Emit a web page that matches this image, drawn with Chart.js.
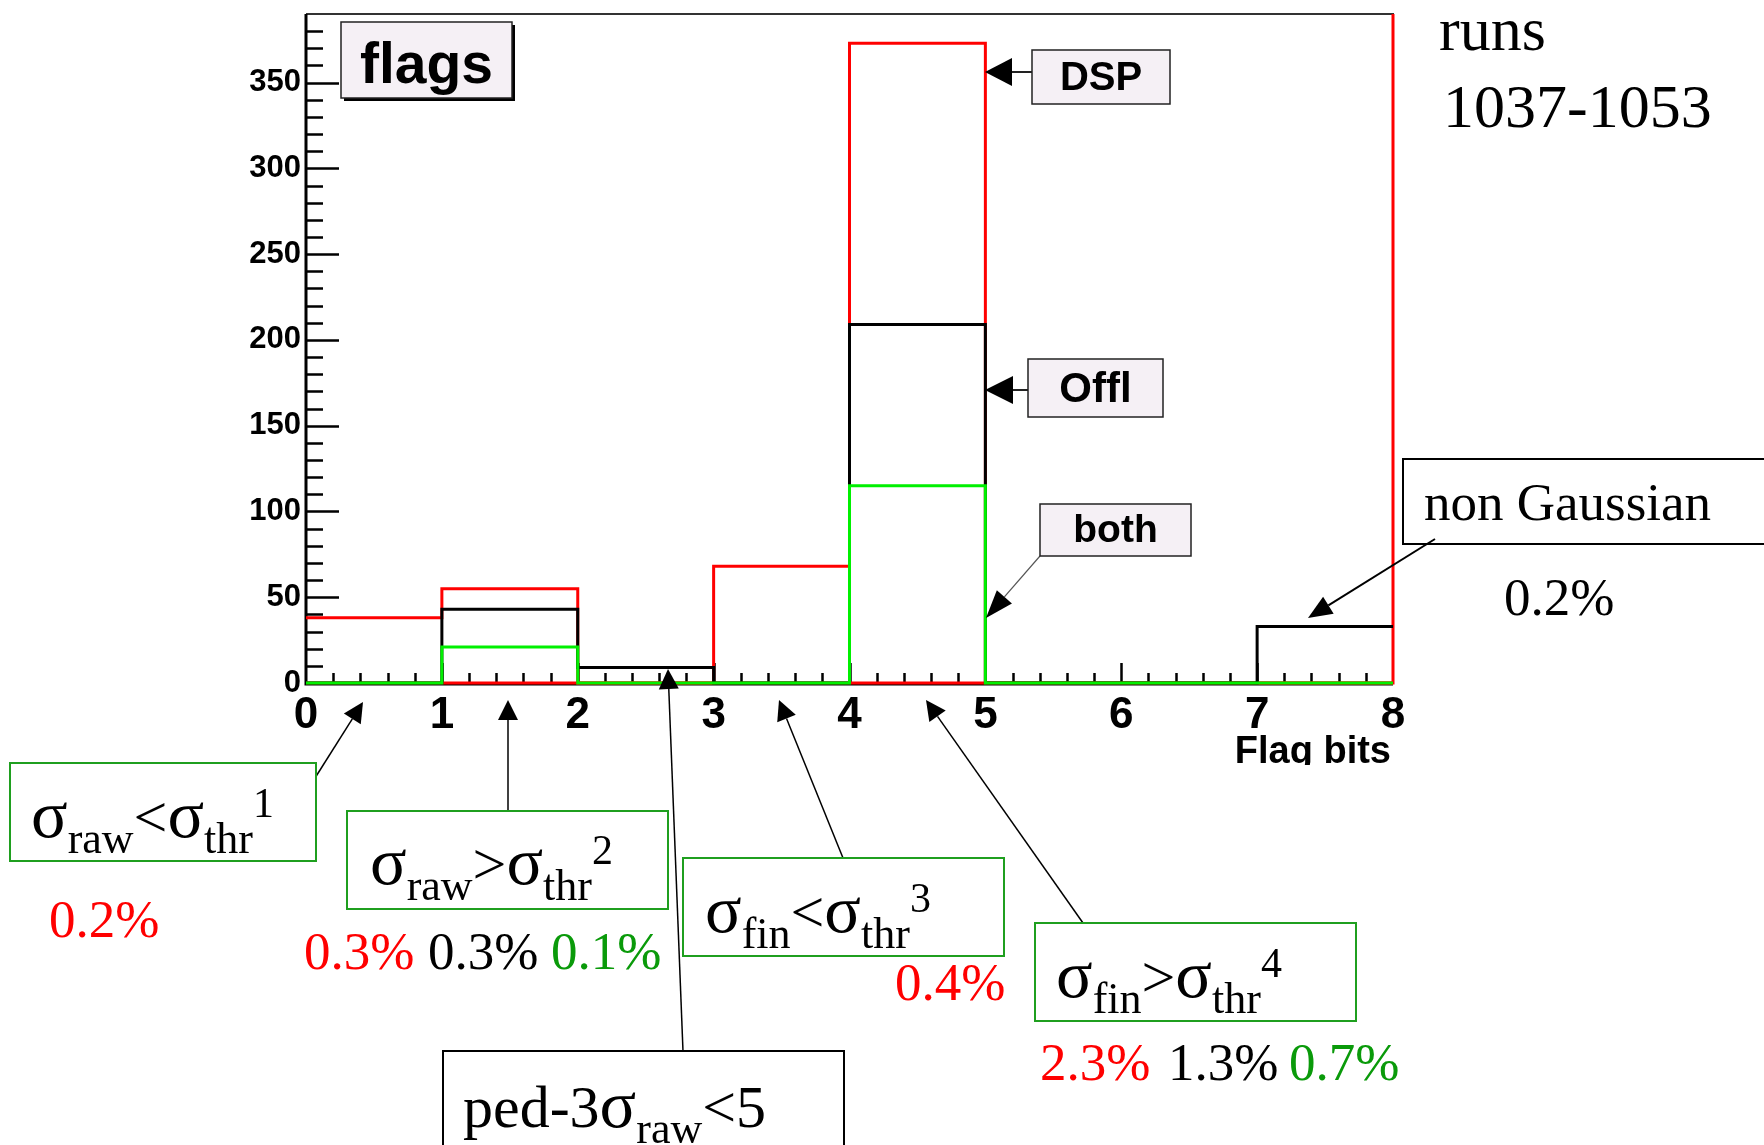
<!DOCTYPE html>
<html>
<head>
<meta charset="utf-8">
<script src="https://cdn.jsdelivr.net/npm/chart.js@4.4.1/dist/chart.umd.min.js"></script>
<style>
  html, body { margin: 0; padding: 0; background: #fff; }
  #wrap { width: 1764px; height: 1145px; position: relative; }
</style>
</head>
<body>
<div id="wrap"><canvas id="c" width="1764" height="1145"></canvas></div>
<script>
// Flag-bit histogram: entries per bin for the three pedestal analyses
const binEdges     = [0, 1, 2, 3, 4, 5, 6, 7, 8];
const dspCounts    = [38, 55, 0, 68, 373, 0, 0, 0];
const dspOverflow  = 400;                 // DSP overflow bin, above the axis range
const offlCounts   = [0, 43, 9, 0, 209, 0, 0, 33];
const bothCounts   = [0, 21, 0, 0, 115, 0, 0, 0];
const xTickLabels  = ['0', '1', '2', '3', '4', '5', '6', '7', '8'];
const yTickLabels  = ['0', '50', '100', '150', '200', '250', '300', '350'];
const yAxisMax     = 390;

const RED = '#ff0000', BLACK = '#000000', GREEN = '#00f000';
const TXT_GREEN = '#0a9a0a', BOX_GREEN = '#1f9f1f';

// histogram outline points: left edge of every bin, closed at the last edge
function stepPoints(edges, counts, closeValue) {
  const pts = counts.map((v, i) => ({ x: edges[i], y: v }));
  const n = counts.length;
  pts.push({ x: edges[n], y: closeValue !== undefined ? closeValue : counts[n - 1] });
  return pts;
}

const histStyle = {
  borderWidth: 3, pointRadius: 0, stepped: true, fill: false, tension: 0,
  clip: { left: 4, right: 4, top: 0, bottom: 4 }
};

// ROOT-style frame, axis lines and inward tick marks
const rootAxes = {
  id: 'rootAxes',
  beforeDatasetsDraw(chart) {
    const { ctx, chartArea: a, scales: { x, y } } = chart;
    ctx.save();
    ctx.strokeStyle = '#333';
    ctx.lineWidth = 2;
    ctx.beginPath();
    ctx.moveTo(a.left, a.top); ctx.lineTo(a.right, a.top); ctx.lineTo(a.right, a.bottom);
    ctx.stroke();

    ctx.strokeStyle = '#000';
    ctx.lineWidth = 3;
    ctx.beginPath();
    ctx.moveTo(a.left, a.top); ctx.lineTo(a.left, a.bottom + 1.5);
    ctx.moveTo(a.left - 1.5, a.bottom + 1); ctx.lineTo(a.right, a.bottom + 1);
    ctx.stroke();

    ctx.lineWidth = 2.5;
    ctx.beginPath();
    for (let v = 10; v < y.max; v += 10) {
      const py = Math.round(y.getPixelForValue(v)) + 0.5;
      const len = v % 50 === 0 ? 33 : 17;
      ctx.moveTo(a.left, py); ctx.lineTo(a.left + len, py);
    }
    for (let k = 1; k < 40; k++) {
      const px = Math.round(x.getPixelForValue(k / 5)) + 0.5;
      const len = k % 5 === 0 ? 20 : 10;
      ctx.moveTo(px, a.bottom); ctx.lineTo(px, a.bottom - len);
    }
    ctx.stroke();
    ctx.restore();
  }
};

function drawArrow(ctx, x1, y1, x2, y2, headLen, headW, lw, color) {
  const ang = Math.atan2(y2 - y1, x2 - x1);
  const bx = x2 - headLen * Math.cos(ang), by = y2 - headLen * Math.sin(ang);
  ctx.save();
  ctx.strokeStyle = color || '#000';
  ctx.fillStyle = '#000';
  ctx.lineWidth = lw;
  ctx.beginPath(); ctx.moveTo(x1, y1); ctx.lineTo(bx, by); ctx.stroke();
  const nx = -Math.sin(ang) * headW / 2, ny = Math.cos(ang) * headW / 2;
  ctx.beginPath();
  ctx.moveTo(x2, y2); ctx.lineTo(bx + nx, by + ny); ctx.lineTo(bx - nx, by - ny);
  ctx.closePath(); ctx.fill();
  ctx.restore();
}

function paveBox(ctx, x, y, w, h, label, size, baseline, shadow) {
  ctx.save();
  if (shadow) { ctx.fillStyle = '#000'; ctx.fillRect(x + 3, y + 3, w, h); }
  ctx.fillStyle = '#f5f0f5';
  ctx.fillRect(x, y, w, h);
  ctx.strokeStyle = '#222'; ctx.lineWidth = 1.5;
  ctx.strokeRect(x, y, w, h);
  ctx.fillStyle = '#000';
  ctx.font = `bold ${size}px "Liberation Sans"`;
  ctx.textAlign = 'center'; ctx.textBaseline = 'alphabetic';
  ctx.fillText(label, x + w / 2, baseline);
  ctx.restore();
}

function richText(ctx, x, y, runs, color) {
  ctx.save();
  ctx.fillStyle = color || '#000';
  ctx.textAlign = 'left'; ctx.textBaseline = 'alphabetic';
  let cx = x;
  for (const r of runs) {
    ctx.font = `${r.s}px "Liberation Serif"`;
    ctx.fillText(r.t, cx, y + (r.dy || 0));
    cx += ctx.measureText(r.t).width;
  }
  ctx.restore();
}

function condBox(ctx, x, y, w, h, stroke, runs, tx, ty) {
  ctx.save();
  ctx.fillStyle = '#fff'; ctx.fillRect(x, y, w, h);
  ctx.strokeStyle = stroke; ctx.lineWidth = 2;
  ctx.strokeRect(x, y, w, h);
  ctx.restore();
  richText(ctx, tx, ty, runs);
}

function serif(ctx, text, x, y, size, color) {
  ctx.save();
  ctx.font = `${size}px "Liberation Serif"`;
  ctx.fillStyle = color; ctx.textAlign = 'left'; ctx.textBaseline = 'alphabetic';
  ctx.fillText(text, x, y);
  ctx.restore();
}

const M = 60, SIG = 68, S = 44, P = 42, SUB = 16, SUP = -20;
const sub = t => ({ t, s: S, dy: SUB });
const sup = t => ({ t, s: P, dy: SUP });
const main = t => ({ t, s: M });
const sig = () => ({ t: 'σ', s: SIG });

const annotations = {
  id: 'annotations',
  afterDraw(chart) {
    const ctx = chart.ctx;

    // axis title, cut at the lower edge of the histogram pad
    ctx.save();
    ctx.beginPath(); ctx.rect(0, 0, chart.width, 765); ctx.clip();
    ctx.font = 'bold 38px "Liberation Sans"';
    ctx.fillStyle = '#000'; ctx.textAlign = 'right'; ctx.textBaseline = 'alphabetic';
    ctx.fillText('Flag bits', 1391, 763);
    ctx.restore();

    paveBox(ctx, 341, 22, 171, 76, 'flags', 57, 83, true);

    // series labels
    drawArrow(ctx, 1032, 72, 985, 72, 27, 28, 2, '#222');
    paveBox(ctx, 1032, 50, 138, 54, 'DSP', 40, 90);
    drawArrow(ctx, 1028, 390, 985, 390, 28, 28, 2, '#222');
    paveBox(ctx, 1028, 359, 135, 58, 'Offl', 42, 402);
    drawArrow(ctx, 1040, 556, 986, 618, 28, 20, 1.2, '#555');
    paveBox(ctx, 1040, 504, 151, 52, 'both', 39, 542);

    // run range
    serif(ctx, 'runs', 1439, 50, 62, '#000');
    serif(ctx, '1037-1053', 1443, 127, 62, '#000');

    // non-Gaussian flag
    ctx.save();
    ctx.fillStyle = '#fff'; ctx.fillRect(1403, 459, 400, 85);
    ctx.strokeStyle = '#000'; ctx.lineWidth = 2; ctx.strokeRect(1403, 459, 400, 85);
    ctx.restore();
    serif(ctx, 'non Gaussian', 1424, 520, 53, '#000');
    drawArrow(ctx, 1435, 539, 1308, 618, 24, 20, 2, '#000');
    serif(ctx, '0.2%', 1504, 615, 53, '#000');

    // connectors from the condition boxes to their bits
    drawArrow(ctx, 315, 778, 363, 702, 20, 20, 1.5, '#000');
    drawArrow(ctx, 508, 811, 508, 700, 20, 20, 1.5, '#000');
    drawArrow(ctx, 683, 1051, 668, 669, 20, 20, 1.5, '#000');
    drawArrow(ctx, 843, 858, 779, 700, 20, 20, 1.5, '#000');
    drawArrow(ctx, 1083, 923, 926, 700, 20, 20, 1.5, '#000');

    condBox(ctx, 10, 763, 306, 98, BOX_GREEN,
      [sig(), sub('raw'), main('<'), sig(), sub('thr'), sup('1')], 31, 837);
    condBox(ctx, 347, 811, 321, 98, BOX_GREEN,
      [sig(), sub('raw'), main('>'), sig(), sub('thr'), sup('2')], 370, 884);
    condBox(ctx, 683, 858, 321, 98, BOX_GREEN,
      [sig(), sub('fin'), main('<'), sig(), sub('thr'), sup('3')], 705, 932);
    condBox(ctx, 1035, 923, 321, 98, BOX_GREEN,
      [sig(), sub('fin'), main('>'), sig(), sub('thr'), sup('4')], 1056, 997);
    condBox(ctx, 443, 1051, 401, 140, '#000',
      [main('ped-3'), sig(), sub('raw'), main('<5')], 463, 1127);

    // fractions of channels flagged (DSP / Offl / both)
    const F = 53;
    serif(ctx, '0.2%', 49, 937, F, RED);
    serif(ctx, '0.3%', 304, 969, F, RED);
    serif(ctx, '0.3%', 428, 969, F, '#000');
    serif(ctx, '0.1%', 551, 969, F, TXT_GREEN);
    serif(ctx, '0.4%', 895, 1000, F, RED);
    serif(ctx, '2.3%', 1040, 1080, F, RED);
    serif(ctx, '1.3%', 1168, 1080, F, '#000');
    serif(ctx, '0.7%', 1289, 1080, F, TXT_GREEN);
  }
};

Chart.defaults.font.family = '"Liberation Sans", Arial, sans-serif';
Chart.defaults.color = '#000';

new Chart(document.getElementById('c'), {
  type: 'line',
  data: {
    datasets: [
      { label: 'both', data: stepPoints(binEdges, bothCounts), borderColor: GREEN, order: 0, ...histStyle },
      { label: 'Offl', data: stepPoints(binEdges, offlCounts), borderColor: BLACK, order: 1, ...histStyle },
      { label: 'DSP', data: stepPoints(binEdges, dspCounts, dspOverflow), borderColor: RED, order: 2, ...histStyle },
      { label: 'DSP outline base', data: binEdges.map(e => ({ x: e, y: 0 })), borderColor: RED, order: 3, ...histStyle }
    ]
  },
  options: {
    responsive: false,
    animation: false,
    devicePixelRatio: 1,
    layout: { padding: { top: 14, right: 371, left: 0, bottom: 0 } },
    plugins: { legend: { display: false }, tooltip: { enabled: false }, title: { display: false } },
    scales: {
      x: {
        type: 'linear', min: 0, max: 8,
        grid: { display: false, drawTicks: false },
        border: { display: false },
        ticks: {
          stepSize: 1, autoSkip: false, maxRotation: 0, padding: 6,
          font: { size: 44, weight: 'bold' },
          callback: (v) => xTickLabels[v] !== undefined ? xTickLabels[v] : ''
        },
        afterFit: (s) => { s.height = 1145 - 683; s.paddingLeft = 0; s.paddingRight = 0; }
      },
      y: {
        type: 'linear', min: 0, max: yAxisMax,
        grid: { display: false, drawTicks: false },
        border: { display: false },
        ticks: {
          stepSize: 50, includeBounds: false, padding: 5,
          font: { size: 31, weight: 'bold' },
          callback: (v) => yTickLabels[v / 50] !== undefined ? yTickLabels[v / 50] : ''
        },
        afterFit: (s) => { s.width = 306; s.paddingTop = 0; s.paddingBottom = 0; }
      }
    }
  },
  plugins: [rootAxes, annotations]
});
</script>
</body>
</html>
